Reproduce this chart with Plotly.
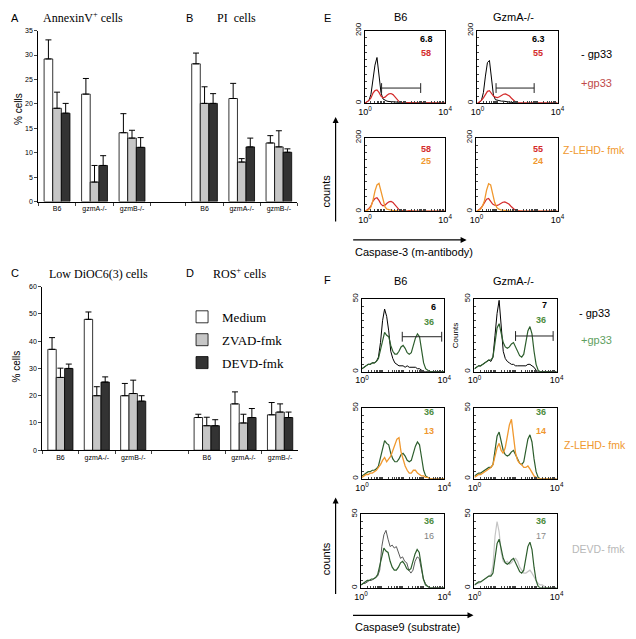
import plotly.graph_objects as go

W, H = 636, 639
SANS = "Liberation Sans, Arial, sans-serif"
SERIF = "Liberation Serif, Times New Roman, serif"

# ---------------- bar-chart data (A-D) ----------------
strains = ["B6", "gzmA-/-", "gzmB-/-"]
treatments = ["Medium", "ZVAD-fmk", "DEVD-fmk"]
bar_colors = ["#ffffff", "#c6c6c6", "#333333"]

annexin_mean = [[29.2, 22.0, 14.1], [19.1, 4.0, 13.0], [18.1, 7.4, 11.1]]
annexin_sd = [[3.9, 3.2, 3.9], [3.3, 3.4, 1.6], [2.0, 2.0, 2.0]]
pi_mean = [[28.2, 21.1, 12.0], [20.1, 8.1, 11.2], [20.1, 11.2, 10.1]]
pi_sd = [[2.2, 3.1, 1.5], [3.4, 0.7, 3.3], [2.0, 1.8, 0.7]]
dioc_mean = [[37.0, 48.0, 20.0], [26.7, 20.0, 20.8], [30.0, 25.0, 18.0]]
dioc_sd = [[4.3, 2.7, 4.5], [3.4, 3.3, 4.9], [1.6, 1.9, 2.0]]
ros_mean = [[12.0, 17.0, 13.0], [9.0, 10.0, 14.0], [9.0, 12.0, 12.0]]
ros_sd = [[1.2, 4.4, 4.5], [3.1, 3.2, 3.0], [2.2, 3.3, 2.0]]

# ---------------- histogram data (E, F) ----------------
# channel positions in decades (log10 of fluorescence)
log_bins = [0.0, 0.1, 0.2, 0.3, 0.4, 0.5, 0.6, 0.7, 0.8, 0.9,
            1.0, 1.1, 1.2, 1.3, 1.4, 1.5, 1.6, 1.7, 1.8, 1.9,
            2.0, 2.1, 2.2, 2.3, 2.4, 2.5, 2.6, 2.7, 2.8, 2.9,
            3.0, 3.1, 3.2, 3.3, 3.4, 3.5, 3.6, 3.7, 3.8, 3.9, 4.0]

# E: caspase-3 (counts, 0-200)
e_b6_minus = [0, 3, 8, 25, 60, 105, 126, 80, 30, 12, 8, 6, 5, 5, 4, 4, 3, 3, 2, 2,
              1, 0, 0, 0, 0, 0, 0, 0, 0, 0, 0, 0, 0, 0, 0, 0, 0, 0, 0, 0, 0]
e_b6_plus = [0, 4, 8, 15, 28, 35, 37, 30, 20, 15, 17, 22, 26, 27, 24, 18, 10, 5, 3, 2,
             2, 1, 2, 1, 1, 1, 1, 2, 1, 1, 1, 1, 1, 1, 1, 1, 1, 1, 1, 1, 1]
e_gzma_minus = [0, 2, 8, 30, 75, 112, 118, 60, 22, 10, 8, 7, 6, 6, 5, 5, 4, 3, 2, 1,
                0, 0, 0, 0, 0, 0, 0, 0, 0, 0, 0, 0, 0, 0, 0, 0, 0, 0, 0, 0, 0]
e_gzma_plus = [0, 3, 8, 15, 26, 33, 35, 28, 20, 17, 16, 18, 22, 25, 26, 24, 20, 14, 8, 4,
               2, 1, 1, 1, 1, 2, 1, 1, 1, 1, 1, 1, 1, 1, 1, 1, 1, 1, 1, 1, 1]
e_b6_lehd = [0, 2, 5, 12, 30, 55, 72, 76, 55, 28, 12, 6, 4, 3, 2, 2, 1, 1, 0, 0,
             0, 0, 0, 0, 0, 0, 0, 0, 0, 0, 0, 0, 0, 0, 0, 0, 0, 0, 0, 0, 0]
e_gzma_lehd = [0, 2, 6, 15, 30, 58, 75, 72, 48, 24, 11, 6, 4, 3, 2, 1, 1, 0, 0, 0,
               0, 0, 0, 0, 0, 0, 0, 0, 0, 0, 0, 0, 0, 0, 0, 0, 0, 0, 0, 0, 0]

# F: caspase-9 substrate (counts, 0-50)
f_b6_minus = [2, 3, 4, 5, 5, 6, 6, 7, 10, 20, 35, 43, 38, 28, 14, 9, 6, 5, 4, 4,
              4, 3, 4, 3, 3, 3, 3, 2, 2, 1, 0, 0, 0, 0, 0, 0, 0, 0, 0, 0, 0]
f_b6_plus = [2, 3, 4, 5, 5, 6, 6, 7, 9, 15, 22, 27, 25, 24, 18, 14, 12, 12, 14, 17,
             18, 16, 13, 12, 13, 18, 23, 26, 24, 15, 6, 2, 1, 0, 0, 0, 0, 0, 0, 0, 0]
f_gzma_minus = [2, 3, 4, 4, 5, 6, 7, 8, 7, 10, 25, 40, 49, 30, 14, 9, 7, 6, 5, 5,
                4, 4, 4, 4, 4, 4, 5, 5, 4, 3, 1, 0, 0, 0, 0, 0, 0, 0, 0, 0, 0]
f_gzma_plus = [2, 3, 4, 4, 5, 6, 7, 8, 8, 10, 20, 30, 33, 27, 20, 17, 16, 17, 19, 20,
               17, 14, 11, 10, 12, 20, 28, 31, 26, 14, 5, 1, 0, 0, 0, 0, 0, 0, 0, 0, 0]
f_b6_lehd = [1, 2, 3, 3, 4, 4, 5, 6, 8, 10, 13, 15, 12, 14, 16, 20, 24, 28, 29, 19,
             14, 9, 6, 4, 4, 6, 6, 4, 3, 2, 2, 1, 1, 0, 0, 0, 0, 0, 0, 0, 0]
f_gzma_lehd = [1, 2, 3, 3, 4, 5, 6, 7, 8, 10, 16, 22, 25, 20, 18, 22, 30, 38, 42, 30,
               18, 13, 11, 10, 8, 8, 9, 7, 4, 2, 1, 0, 0, 0, 0, 0, 0, 0, 0, 0, 0]
f_b6_devd = [2, 3, 3, 4, 5, 5, 6, 7, 8, 12, 28, 36, 39, 33, 28, 29, 27, 28, 24, 20,
             21, 18, 17, 12, 10, 12, 18, 21, 20, 12, 6, 3, 1, 0, 0, 0, 0, 0, 0, 0, 0]
f_gzma_devd = [2, 3, 3, 4, 5, 6, 7, 8, 9, 15, 35, 45, 38, 24, 18, 17, 18, 16, 17, 19,
               20, 18, 14, 12, 10, 10, 11, 12, 10, 7, 5, 3, 2, 2, 1, 0, 0, 0, 0, 0, 0]

# marker gates: [low decade, high decade, count level]
gate_e_b6 = [0.83, 2.78, 42]
gate_e_gzma = [0.93, 2.83, 42]
gate_f_b6 = [1.96, 3.88, 24]
gate_f_gzma = [2.0, 3.83, 24.5]

# ---------------- colours ----------------
RED = "#d42b2b"
ORANGE = "#f0982e"
GREEN = "#2d5e2d"
GREEN_TXT = "#4c8c3c"


def fx(x):
    return x / W


def fy(y):
    return 1 - y / H


def dom_x(a, b):
    return [fx(a), fx(b)]


def dom_y(top, bottom):
    return [fy(bottom), fy(top)]


def sfx(i):
    return "" if i == 1 else str(i)


fig = go.Figure()
layout = dict(
    width=W, height=H, autosize=False,
    margin=dict(l=0, r=0, t=0, b=0),
    paper_bgcolor="white", plot_bgcolor="white",
    barmode="group", bargap=0.31, bargroupgap=0,
    font=dict(family=SANS, color="black"),
    showlegend=True,
    legend=dict(x=fx(179), y=fy(299), xanchor="left", yanchor="top",
                font=dict(family=SERIF, size=13), bgcolor="rgba(0,0,0,0)",
                traceorder="grouped", tracegroupgap=3, itemwidth=30),
)

# ---------------- bar panels ----------------
bar_panels = [
    # idx, means, sds, x0, x1, xrange, ytop, ybot, yrange, dtick, show y, legend
    (1, annexin_mean, annexin_sd, 32, 170, [-0.5, 3.1], 23, 197, [0, 35], 5, True, False),
    (2, pi_mean, pi_sd, 145, 297, [-1.5, 2.5], 23, 197, [0, 35], 5, False, False),
    (3, dioc_mean, dioc_sd, 36, 170, [-0.5, 3.1], 283.5, 450, [0, 60], 10, True, True),
    (4, ros_mean, ros_sd, 148, 298, [-1.5, 2.5], 283.5, 450, [0, 60], 10, False, False),
]

for (i, means, sds, x0, x1, xr, yt, yb, yr, dt, showy, leg) in bar_panels:
    n = sfx(i)
    for t in range(3):
        fig.add_trace(go.Bar(
            x=strains, y=means[t], name=treatments[t],
            marker=dict(color=bar_colors[t], line=dict(color="black", width=0.8)),
            error_y=dict(type="data", symmetric=False, array=sds[t],
                         arrayminus=[0, 0, 0], color="black", thickness=1, width=3),
            xaxis="x" + n, yaxis="y" + n, showlegend=leg,
            legendgroup=treatments[t], hoverinfo="skip"))
    layout["xaxis" + n] = dict(
        domain=dom_x(x0, x1), range=xr, type="category", tickson="boundaries",
        ticks="outside", ticklen=3, tickwidth=1, showline=True, linecolor="black",
        linewidth=1, showgrid=False, zeroline=False, tickfont=dict(size=7),
        ticklabelstandoff=0, anchor="y" + n, fixedrange=True)
    ya = dict(domain=dom_y(yt, yb), range=yr, anchor="x" + n, fixedrange=True,
              showgrid=False, zeroline=False)
    if showy:
        ya.update(dtick=dt, ticks="outside", ticklen=3, tickwidth=1, showline=True,
                  linecolor="black", linewidth=1, tickfont=dict(size=7))
    else:
        ya.update(visible=False)
    layout["yaxis" + n] = ya

# ---------------- histogram panels ----------------
decade_ticks = [m * 10 ** e for e in range(4) for m in range(1, 10)] + [10000]
decade_text = ["10<sup>0</sup>" if v == 1 else ("10<sup>4</sup>" if v == 10000 else "")
               for v in decade_ticks]

hist_panels = [
    # idx, x0, x1, ytop, ybot, ymax, ystep, curves[(data, colour, width)], gate
    (5, 366, 448, 23, 97, 200, 20, [(e_b6_minus, "black", 1), (e_b6_plus, RED, 1.2)], gate_e_b6),
    (6, 481, 563, 23, 97, 200, 20, [(e_gzma_minus, "black", 1), (e_gzma_plus, RED, 1.2)], gate_e_gzma),
    (7, 366, 448, 132, 207, 200, 20, [(e_b6_plus, RED, 1.2), (e_b6_lehd, ORANGE, 1.3)], None),
    (8, 480, 563, 132, 207, 200, 20, [(e_gzma_plus, RED, 1.2), (e_gzma_lehd, ORANGE, 1.3)], None),
    (9, 363, 447, 296, 370, 50, 5, [(f_b6_minus, "black", 1), (f_b6_plus, GREEN, 1.2)], gate_f_b6),
    (10, 478, 562, 296, 370, 50, 5, [(f_gzma_minus, "black", 1), (f_gzma_plus, GREEN, 1.2)], gate_f_gzma),
    (11, 363, 447, 407, 479, 50, 5, [(f_b6_plus, GREEN, 1.2), (f_b6_lehd, ORANGE, 1.3)], None),
    (12, 478, 562, 407, 479, 50, 5, [(f_gzma_plus, GREEN, 1.2), (f_gzma_lehd, ORANGE, 1.3)], None),
    (13, 362, 447, 515, 590, 50, 5, [(f_b6_devd, "#5a5a5a", 1), (f_b6_plus, GREEN, 1.2)], None),
    (14, 478, 562, 515, 590, 50, 5, [(f_gzma_devd, "#c4c4c4", 1.2), (f_gzma_plus, GREEN, 1.2)], None),
]

xs = [10 ** e for e in log_bins]
for (i, x0, x1, yt, yb, ymax, ystep, curves, gate) in hist_panels:
    n = sfx(i)
    for (data, col, w) in curves:
        fig.add_trace(go.Scatter(x=xs, y=data, mode="lines",
                                 line=dict(color=col, width=w),
                                 xaxis="x" + n, yaxis="y" + n,
                                 showlegend=False, hoverinfo="skip"))
    if gate is not None:
        fig.add_trace(go.Scatter(
            x=[10 ** gate[0], 10 ** gate[1]], y=[gate[2], gate[2]],
            mode="lines+markers", line=dict(color="#222222", width=1),
            marker=dict(symbol="line-ns-open", size=7,
                        line=dict(color="#222222", width=1)),
            xaxis="x" + n, yaxis="y" + n, showlegend=False, hoverinfo="skip"))
    yticks = list(range(0, ymax + 1, ystep))
    ytext = [str(v) if v in (0, ymax) else "" for v in yticks]
    layout["xaxis" + n] = dict(
        domain=dom_x(x0, x1), type="log", range=[0, 4], anchor="y" + n,
        tickvals=decade_ticks, ticktext=decade_text, ticks="inside", ticklen=2,
        tickwidth=1, showline=True, mirror=True, linecolor="black", linewidth=1,
        showgrid=False, zeroline=False, tickfont=dict(size=9), fixedrange=True)
    layout["yaxis" + n] = dict(
        domain=dom_y(yt, yb), range=[0, ymax], anchor="x" + n,
        tickvals=yticks, ticktext=ytext, ticks="inside", ticklen=2, tickwidth=1,
        tickangle=-90, showline=True, mirror=True, linecolor="black", linewidth=1,
        showgrid=False, zeroline=False, tickfont=dict(size=8), fixedrange=True)


# ---------------- text ----------------
def T(x, y, text, size=11, color="black", family=SANS, angle=0, xanchor="center"):
    return dict(x=fx(x), y=fy(y), xref="paper", yref="paper", text=text,
                showarrow=False, textangle=angle, xanchor=xanchor, yanchor="middle",
                font=dict(size=size, color=color, family=family))


def ARROW(tx, ty, sx, sy):
    return dict(x=fx(tx), y=fy(ty), xref="paper", yref="paper", text="",
                showarrow=True, ax=sx - tx, ay=sy - ty, axref="pixel", ayref="pixel",
                arrowhead=2, arrowsize=1, arrowwidth=1.2, arrowcolor="black")


ann = [
    T(8, 10, "A"), T(187, 10, "B"), T(8, 270, "C"), T(187, 270, "D"),
    T(328, 10, "E"), T(328, 277, "F"),
    T(78, 10, "AnnexinV<sup>+</sup> cells", 12, family=SERIF),
    T(235, 10, "PI  cells", 12, family=SERIF),
    T(94, 271, "Low DiOC6(3) cells", 12, family=SERIF),
    T(238, 270, "ROS<sup>+</sup> cells", 12, family=SERIF),
    T(11, 103, "% cells", 10, angle=-90),
    T(10, 365, "% cells", 10, angle=-90),
    # E
    T(402, 9, "B6", 11), T(518, 9, "GzmA-/-", 11),
    T(429, 32, "<b>6.8</b>", 9), T(428, 46, "<b>58</b>", 9, RED),
    T(543, 32, "<b>6.3</b>", 9), T(543, 46, "<b>55</b>", 9, RED),
    T(428, 143, "<b>58</b>", 9, RED), T(428, 156, "<b>25</b>", 9, ORANGE),
    T(543, 143, "<b>55</b>", 9, RED), T(543, 156, "<b>24</b>", 9, ORANGE),
    T(603, 47, "- gp33", 11), T(603, 76, "+gp33", 11, "#c04a4a"),
    T(600, 144, "Z-LEHD- fmk", 10.5, ORANGE),
    T(326, 186, "counts", 11, angle=-90),
    T(416, 248, "Caspase-3 (m-antibody)", 11),
    # F
    T(402, 278, "B6", 11), T(518, 278, "GzmA-/-", 11),
    T(436, 304, "<b>6</b>", 9), T(432, 319, "<b>36</b>", 9, GREEN_TXT),
    T(550, 302, "<b>7</b>", 9), T(546, 317, "<b>36</b>", 9, GREEN_TXT),
    T(601, 310, "- gp33", 11), T(603, 338, "+gp33", 11, "#5f9f5f"),
    T(458, 333, "Counts", 8, angle=-90),
    T(432, 411, "<b>36</b>", 9, GREEN_TXT), T(432, 430, "<b>13</b>", 9, ORANGE),
    T(546, 411, "<b>36</b>", 9, GREEN_TXT), T(546, 430, "<b>14</b>", 9, ORANGE),
    T(601, 445, "Z-LEHD- fmk", 10.5, ORANGE),
    T(432, 522, "<b>36</b>", 9, GREEN_TXT), T(432, 537, "16", 9, "#808080"),
    T(546, 522, "<b>36</b>", 9, GREEN_TXT), T(546, 537, "17", 9, "#8a8a8a"),
    T(605, 550, "DEVD- fmk", 10.5, "#b8b8b8"),
    T(327, 560, "counts", 11, angle=-90),
    T(410, 630, "Caspase9 (substrate)", 11),
    ARROW(336, 111, 336, 217), ARROW(470, 236, 355, 236),
    ARROW(336, 498, 336, 596), ARROW(477, 618, 355, 618),
]
layout["annotations"] = ann

fig.update_layout(**layout)
# remove the browser's default 8px body margin so the 636x639 figure fills the page
fig.write_html("out.html",
               config={"displayModeBar": False},
               post_script="document.body.style.margin='0px';"
                           "document.body.style.overflow='hidden';")
